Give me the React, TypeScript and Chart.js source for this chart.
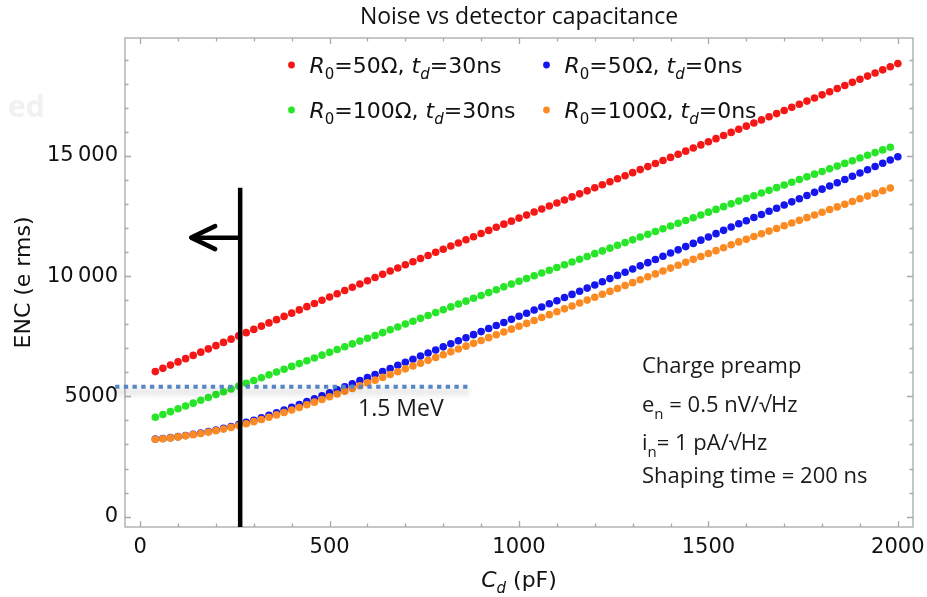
import React, { useEffect, useRef } from "react";
import { Chart, registerables } from "chart.js";

Chart.register(...registerables);

// ---- Data ----
const chartTitle = "Noise vs detector capacitance";
const yAxisTitle = "ENC (e rms)";

// Detector capacitance C_d (pF)
const capacitance = [
  40, 60, 80, 100, 120, 140, 160, 180, 200, 220, 240, 260, 280, 300, 320, 340, 360, 380, 400, 420,
  440, 460, 480, 500, 520, 540, 560, 580, 600, 620, 640, 660, 680, 700, 720, 740, 760, 780, 800, 820,
  840, 860, 880, 900, 920, 940, 960, 980, 1000, 1020, 1040, 1060, 1080, 1100, 1120, 1140, 1160, 1180, 1200, 1220,
  1240, 1260, 1280, 1300, 1320, 1340, 1360, 1380, 1400, 1420, 1440, 1460, 1480, 1500, 1520, 1540, 1560, 1580, 1600, 1620,
  1640, 1660, 1680, 1700, 1720, 1740, 1760, 1780, 1800, 1820, 1840, 1860, 1880, 1900, 1920, 1940, 1960, 1980, 2000,
];

// R0 = 50 Ω, td = 30 ns (40 … 2000 pF)
const encR50td30 = [
  6030, 6165, 6300, 6435, 6570, 6705, 6840, 6975, 7110, 7245, 7380, 7515, 7650, 7785, 7920, 8055, 8190, 8325, 8460, 8595,
  8730, 8865, 9000, 9135, 9270, 9405, 9540, 9675, 9810, 9945, 10080, 10210, 10340, 10470, 10600, 10730, 10860, 10990, 11120, 11250,
  11380, 11510, 11640, 11770, 11900, 12030, 12160, 12286, 12412, 12538, 12664, 12790, 12916, 13042, 13168, 13294, 13420, 13546, 13672, 13798,
  13924, 14050, 14176, 14302, 14428, 14554, 14680, 14806, 14936, 15066, 15196, 15326, 15456, 15586, 15716, 15846, 15976, 16106, 16236, 16366,
  16496, 16626, 16756, 16886, 17016, 17146, 17276, 17406, 17536, 17666, 17796, 17926, 18056, 18186, 18316, 18446, 18576, 18706, 18836,
];

// R0 = 50 Ω, td = 0 ns (40 … 2000 pF)
const encR50td0 = [
  3225, 3247, 3285, 3327, 3375, 3427, 3480, 3537, 3600, 3672, 3749, 3831, 3918, 4010, 4110, 4215, 4320, 4430, 4545, 4661,
  4782, 4903, 5024, 5150, 5276, 5402, 5528, 5654, 5780, 5906, 6032, 6161, 6290, 6419, 6547, 6675, 6803, 6931, 7059, 7186,
  7313, 7440, 7567, 7694, 7821, 7948, 8075, 8202, 8329, 8459, 8589, 8719, 8849, 8979, 9110, 9241, 9372, 9503, 9634, 9766,
  9898, 10030, 10162, 10294, 10427, 10560, 10693, 10826, 10959, 11093, 11227, 11361, 11495, 11629, 11766, 11903, 12040, 12177, 12305, 12435,
  12565, 12695, 12825, 12955, 13087, 13219, 13351, 13483, 13615, 13749, 13883, 14017, 14151, 14285, 14421, 14557, 14693, 14829, 14965,
];

// R0 = 100 Ω, td = 30 ns (40 … 1980 pF)
const encR100td30 = [
  4130, 4248, 4366, 4484, 4602, 4720, 4838, 4956, 5074, 5192, 5310, 5427, 5544, 5661, 5778, 5895, 6012, 6129, 6246, 6363,
  6480, 6597, 6714, 6831, 6948, 7065, 7182, 7299, 7416, 7533, 7650, 7769, 7888, 8007, 8126, 8245, 8364, 8483, 8602, 8721,
  8840, 8959, 9078, 9197, 9316, 9435, 9554, 9669, 9784, 9899, 10014, 10129, 10244, 10359, 10474, 10589, 10704, 10819, 10934, 11049,
  11164, 11279, 11394, 11509, 11624, 11739, 11854, 11969, 12084, 12199, 12314, 12429, 12544, 12659, 12774, 12889, 13004, 13119, 13231, 13343,
  13455, 13567, 13679, 13791, 13903, 14015, 14127, 14239, 14351, 14463, 14575, 14687, 14799, 14911, 15023, 15135, 15247, 15359,
];

// R0 = 100 Ω, td = 0 ns (40 … 1980 pF)
const encR100td0 = [
  3220, 3240, 3275, 3315, 3360, 3410, 3460, 3515, 3575, 3640, 3710, 3785, 3865, 3950, 4040, 4135, 4230, 4330, 4435, 4540,
  4650, 4760, 4870, 4985, 5100, 5215, 5330, 5445, 5560, 5675, 5790, 5908, 6026, 6144, 6262, 6380, 6498, 6616, 6734, 6852,
  6970, 7088, 7206, 7324, 7442, 7560, 7678, 7796, 7914, 8035, 8156, 8277, 8398, 8519, 8640, 8761, 8882, 9003, 9124, 9245,
  9366, 9487, 9608, 9729, 9850, 9971, 10092, 10213, 10334, 10455, 10576, 10697, 10818, 10939, 11060, 11181, 11302, 11423, 11535, 11647,
  11759, 11871, 11983, 12095, 12207, 12319, 12431, 12543, 12655, 12767, 12879, 12991, 13103, 13215, 13327, 13439, 13551, 13663,
];

const seriesR0 = [50, 50, 100, 100];
const seriesTd = [30, 0, 30, 0];
const seriesColors = ["#f51616", "#1515ee", "#27e627", "#fb8a22"];

// Annotations
const thresholdEnc = 5405; // 1.5 MeV line
const thresholdLabel = "1.5 MeV";
const cutCapacitance = 264; // vertical marker (pF)
const noteLines = ["Charge preamp", "e|n| = 0.5 nV/√Hz", "i|n|= 1 pA/√Hz", "Shaping time = 200 ns"];

const xMajorTicks = [0, 500, 1000, 1500, 2000];
const yMajorTicks = [0, 5000, 10000, 15000];

type Seg = { text: string; italic?: boolean; sub?: boolean };

function drawRich(
  ctx: CanvasRenderingContext2D,
  segs: Seg[],
  x: number,
  y: number,
  size: number,
  family: string,
  align: "left" | "center",
  subScale = 0.7,
  subDy = 0.28
) {
  const fontFor = (s: Seg) =>
    `${s.italic ? "italic " : ""}${s.sub ? Math.round(size * subScale) : size}px ${family}`;
  let w = 0;
  for (const s of segs) {
    ctx.font = fontFor(s);
    w += ctx.measureText(s.text).width;
  }
  let cx = align === "center" ? x - w / 2 : x;
  ctx.textAlign = "left";
  ctx.textBaseline = "alphabetic";
  for (const s of segs) {
    ctx.font = fontFor(s);
    ctx.fillText(s.text, cx, y + (s.sub ? size * subDy : 0));
    cx += ctx.measureText(s.text).width;
  }
}

function legendSegs(i: number): Seg[] {
  return [
    { text: "R", italic: true },
    { text: "0", sub: true },
    { text: `=${seriesR0[i]}Ω, ` },
    { text: "t", italic: true },
    { text: "d", italic: true, sub: true },
    { text: `=${seriesTd[i]}ns` },
  ];
}

function noteSegs(line: string): Seg[] {
  const parts = line.split("|");
  return parts.map((p, k) => ({ text: p, sub: k === 1 }));
}

const decorPlugin = {
  id: "decor",
  beforeDatasetsDraw(chart: any) {
    const { ctx, chartArea: a, scales } = chart;
    const xs = scales.x;
    const ys = scales.y;
    ctx.save();
    // faint ghost text from the slide
    ctx.fillStyle = "#f1f1f1";
    ctx.font = 'bold 30px "Open Sans"';
    ctx.textAlign = "left";
    ctx.textBaseline = "alphabetic";
    ctx.fillText("ed", 8, 117);

    // frame
    ctx.strokeStyle = "#a8a8a8";
    ctx.lineWidth = 1.3;
    ctx.strokeRect(a.left, a.top, a.right - a.left, a.bottom - a.top);
    // ticks on all four sides
    ctx.beginPath();
    for (let v = 0; v <= 2000; v += 100) {
      const px = Math.round(xs.getPixelForValue(v)) + 0.5;
      const len = v % 500 === 0 ? 6 : 3.5;
      ctx.moveTo(px, a.bottom);
      ctx.lineTo(px, a.bottom - len);
      ctx.moveTo(px, a.top);
      ctx.lineTo(px, a.top + len);
    }
    for (let v = 0; v <= 19000; v += 1000) {
      const py = Math.round(ys.getPixelForValue(v)) + 0.5;
      const len = v % 5000 === 0 ? 6 : 3.5;
      ctx.moveTo(a.left, py);
      ctx.lineTo(a.left + len, py);
      ctx.moveTo(a.right, py);
      ctx.lineTo(a.right - len, py);
    }
    ctx.stroke();

    // title
    ctx.fillStyle = "#111";
    ctx.font = '23px "Open Sans"';
    ctx.textAlign = "center";
    ctx.textBaseline = "alphabetic";
    ctx.fillText(chartTitle, (a.left + a.right) / 2, 24);

    // y axis title
    ctx.save();
    ctx.translate(24, (a.top + a.bottom) / 2);
    ctx.rotate(-Math.PI / 2);
    ctx.font = '22px "DejaVu Sans"';
    ctx.textAlign = "center";
    ctx.textBaseline = "middle";
    ctx.fillText(yAxisTitle, 0, 0);
    ctx.restore();

    // x axis title
    ctx.fillStyle = "#111";
    drawRich(
      ctx,
      [{ text: "C", italic: true }, { text: "d", italic: true, sub: true }, { text: " (pF)" }],
      (a.left + a.right) / 2,
      587,
      22,
      '"DejaVu Sans"',
      "center"
    );
    ctx.restore();
  },
  afterDatasetsDraw(chart: any) {
    const { ctx, chartArea: a, scales } = chart;
    const xs = scales.x;
    const ys = scales.y;
    ctx.save();

    // 1.5 MeV dotted line with soft shadow
    const ty = ys.getPixelForValue(thresholdEnc);
    ctx.save();
    ctx.shadowColor = "rgba(0,0,0,0.32)";
    ctx.shadowBlur = 6;
    ctx.shadowOffsetY = 5;
    ctx.strokeStyle = "#5585c5";
    ctx.lineWidth = 4;
    ctx.setLineDash([4.3, 4.4]);
    ctx.beginPath();
    ctx.moveTo(xs.getPixelForValue(-66), ty);
    ctx.lineTo(xs.getPixelForValue(866), ty);
    ctx.stroke();
    ctx.restore();

    ctx.fillStyle = "#1a1a1a";
    ctx.font = '23px "Open Sans"';
    ctx.textAlign = "left";
    ctx.textBaseline = "alphabetic";
    ctx.fillText(thresholdLabel, xs.getPixelForValue(575), ys.getPixelForValue(4187));

    // vertical marker and arrow
    const vx = xs.getPixelForValue(cutCapacitance);
    const vTop = ys.getPixelForValue(13670);
    const ay = ys.getPixelForValue(11600);
    ctx.strokeStyle = "#000";
    ctx.lineWidth = 4.5;
    ctx.beginPath();
    ctx.moveTo(vx, vTop);
    ctx.lineTo(vx, a.bottom);
    ctx.stroke();
    ctx.beginPath();
    ctx.moveTo(vx, ay);
    ctx.lineTo(vx - 48, ay);
    ctx.stroke();
    ctx.lineWidth = 4.5;
    ctx.lineCap = "round";
    ctx.lineJoin = "round";
    ctx.beginPath();
    ctx.moveTo(vx - 25, ay - 11.5);
    ctx.lineTo(vx - 49, ay);
    ctx.lineTo(vx - 25, ay + 11.5);
    ctx.stroke();

    // legend
    const cols = [291.5, 546.5];
    const rows = [65, 110];
    [0, 1, 2, 3].forEach((i) => {
      const cx = cols[i % 2];
      const cy = rows[Math.floor(i / 2)];
      ctx.fillStyle = seriesColors[i];
      ctx.beginPath();
      ctx.arc(cx, cy, 3.4, 0, Math.PI * 2);
      ctx.fill();
      ctx.fillStyle = "#111";
      drawRich(ctx, legendSegs(i), cx + 18, cy + 8, 22, '"DejaVu Sans"', "left");
    });

    // notes
    const nx = 642;
    const baselines = [373, 412, 450, 483];
    ctx.fillStyle = "#1a1a1a";
    noteLines.forEach((line, k) => {
      drawRich(ctx, noteSegs(line), nx, baselines[k], 22, '"Open Sans"', "left", 0.68, 0.3);
    });

    ctx.restore();
  },
};

function fmtTick(v: number): string {
  if (Math.abs(v) >= 10000) {
    const th = Math.floor(v / 1000);
    const rest = String(v % 1000).padStart(3, "0");
    return `${th}\u2009${rest}`;
  }
  return String(v);
}

export default function App() {
  const canvasRef = useRef<HTMLCanvasElement | null>(null);

  useEffect(() => {
    const canvas = canvasRef.current;
    if (!canvas) return;
    const mk = (vals: number[]) => vals.map((y, i) => ({ x: capacitance[i], y }));
    // draw order: lower `order` is drawn on top
    const datasets = [
      { label: "R0=50Ω, td=30ns", data: mk(encR50td30), color: seriesColors[0], order: 3 },
      { label: "R0=50Ω, td=0ns", data: mk(encR50td0), color: seriesColors[1], order: 1 },
      { label: "R0=100Ω, td=30ns", data: mk(encR100td30), color: seriesColors[2], order: 2 },
      { label: "R0=100Ω, td=0ns", data: mk(encR100td0), color: seriesColors[3], order: 0 },
    ].map((d) => ({
      label: d.label,
      data: d.data,
      order: d.order,
      showLine: false,
      pointRadius: 3.8,
      pointHoverRadius: 3.8,
      pointBorderWidth: 0,
      pointBackgroundColor: d.color,
      borderColor: d.color,
      backgroundColor: d.color,
    }));

    const tickFont = { family: '"DejaVu Sans"', size: 21 };
    const chart = new Chart(canvas, {
      type: "scatter",
      data: { datasets },
      options: {
        animation: false,
        responsive: false,
        devicePixelRatio: 1,
        layout: { padding: { left: 0, right: 14, top: 38, bottom: 0 } },
        plugins: { legend: { display: false }, tooltip: { enabled: false }, title: { display: false } },
        scales: {
          x: {
            type: "linear",
            min: -40,
            max: 2040,
            grid: { display: false, drawTicks: false },
            border: { display: false },
            afterBuildTicks: (s: any) => {
              s.ticks = xMajorTicks.map((v) => ({ value: v }));
            },
            ticks: {
              color: "#111",
              font: tickFont,
              padding: 8,
              autoSkip: false,
              maxRotation: 0,
              callback: (v: any) => fmtTick(Number(v)),
            },
            afterFit: (s: any) => {
              s.height = 70;
              s.paddingLeft = 0;
              s.paddingRight = 0;
            },
          },
          y: {
            type: "linear",
            min: -430,
            max: 19900,
            grid: { display: false, drawTicks: false },
            border: { display: false },
            afterBuildTicks: (s: any) => {
              s.ticks = yMajorTicks.map((v) => ({ value: v }));
            },
            ticks: {
              color: "#111",
              font: tickFont,
              padding: 7,
              autoSkip: false,
              callback: (v: any) => fmtTick(Number(v)),
            },
            afterFit: (s: any) => {
              s.width = 125;
              s.paddingTop = 0;
              s.paddingBottom = 0;
            },
          },
        },
      },
      plugins: [decorPlugin],
    } as any);
    return () => chart.destroy();
  }, []);

  return (
    <div style={{ position: "fixed", left: 0, top: 0, width: 927, height: 597, background: "#fff" }}>
      <canvas ref={canvasRef} width={927} height={597} style={{ display: "block", width: 927, height: 597 }} />
    </div>
  );
}
